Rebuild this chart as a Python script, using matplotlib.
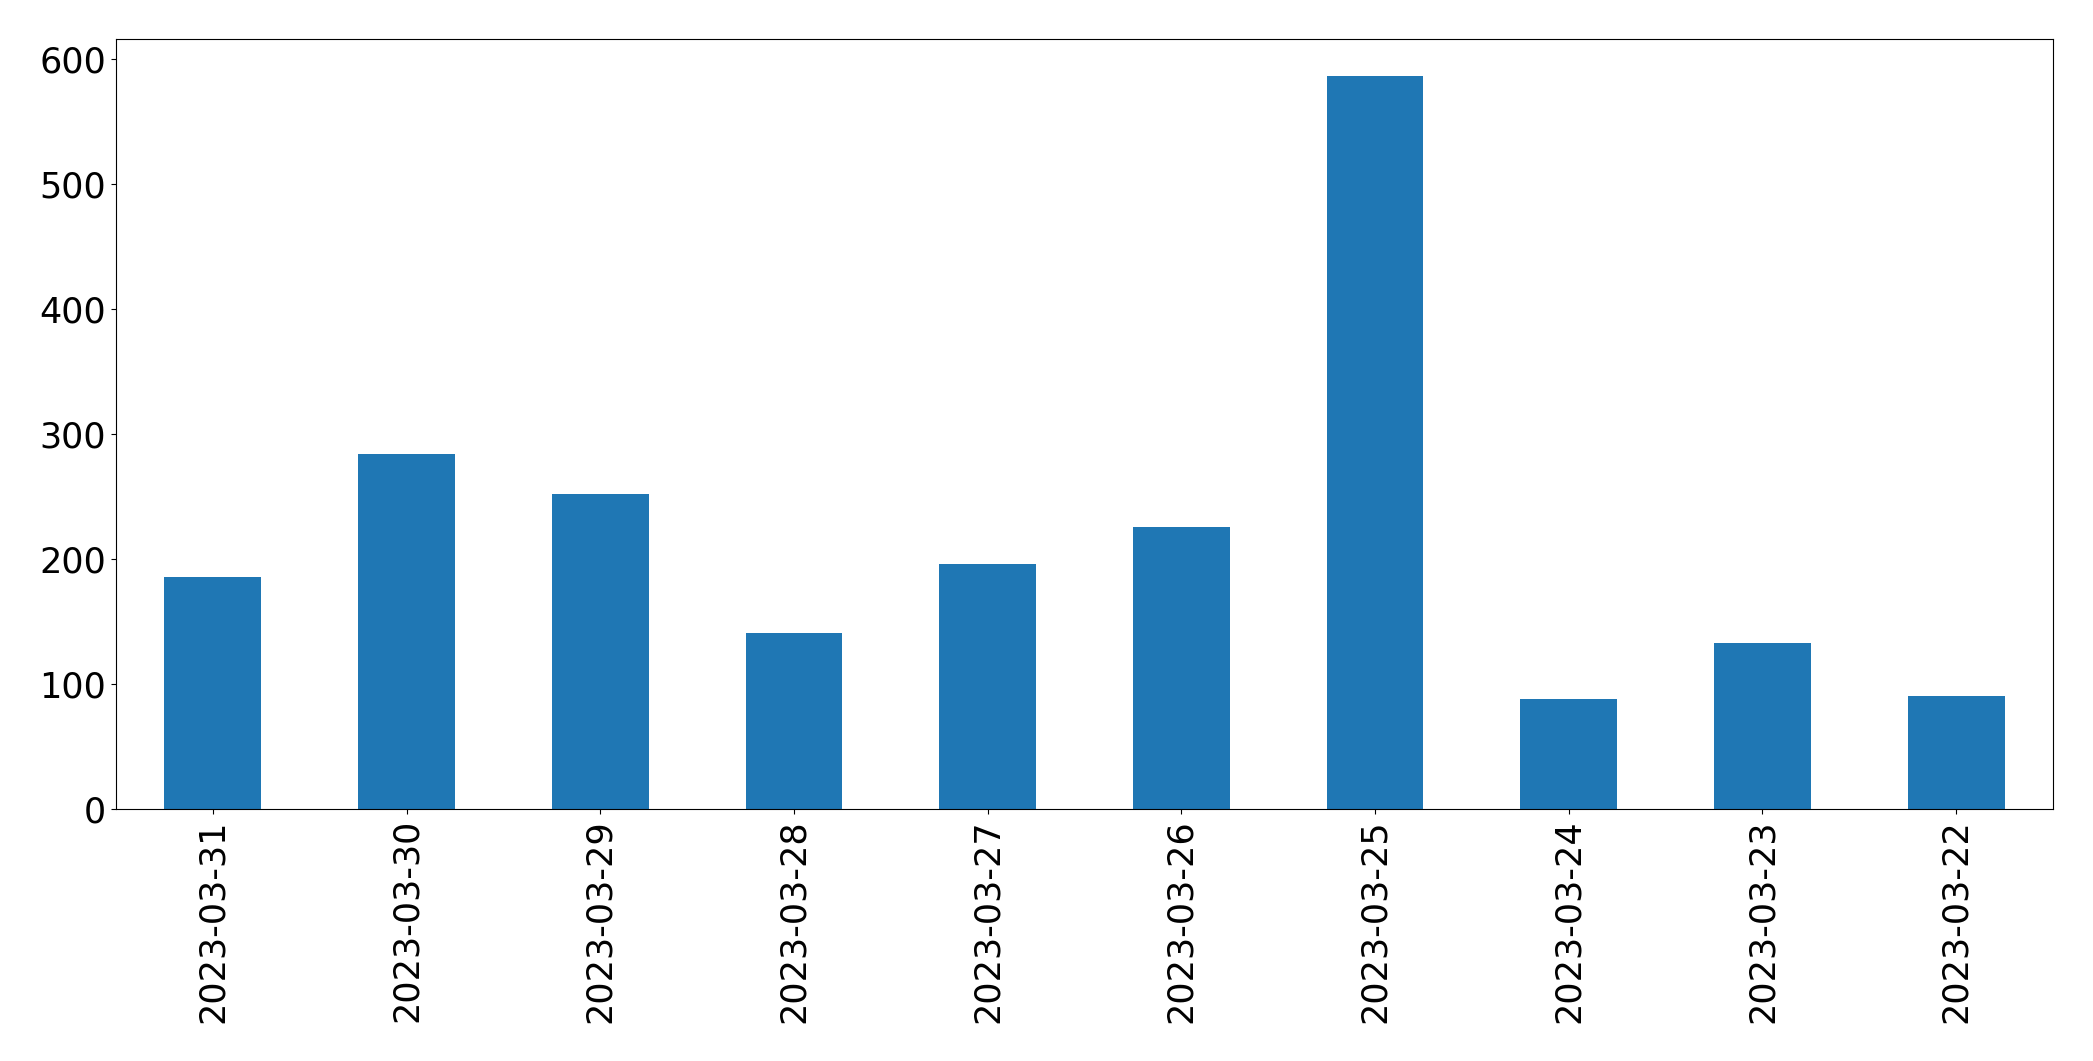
import matplotlib
matplotlib.use("Agg")
import matplotlib.pyplot as plt

dates = ["2023-03-31", "2023-03-30", "2023-03-29", "2023-03-28", "2023-03-27",
         "2023-03-26", "2023-03-25", "2023-03-24", "2023-03-23", "2023-03-22"]
counts = [186, 284, 252, 141, 196, 226, 587, 88, 133, 91]

fig = plt.figure(figsize=(20.93, 10.61), dpi=100)
ax = fig.add_axes([0.0554, 0.2372, 0.9255, 0.7258])
x = list(range(len(dates)))
ax.bar(x, counts, width=0.5, color="#1f77b4")
ax.set_xlim(-0.5, len(dates) - 0.5)
ax.set_xticks(x)
ax.set_xticklabels(dates, rotation=90, fontsize=25.2)
ax.set_yticks([0, 100, 200, 300, 400, 500, 600])
ax.tick_params(axis="y", labelsize=25.2)
ax.set_ylim(0, 616)
fig.savefig("out.png", dpi=100)
